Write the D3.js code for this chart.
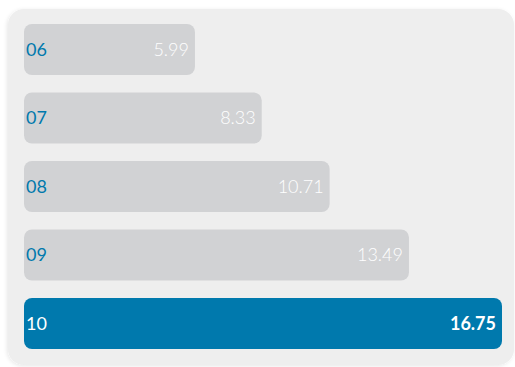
<!DOCTYPE html>
<html>
<head>
<meta charset="utf-8">
<script src="https://cdn.jsdelivr.net/npm/d3@7"></script>
<style>
body { margin: 0; background: #fff; }
svg { display: block; }
</style>
</head>
<body>
<svg id="chart" width="515" height="367"></svg>
<script>
var years = ['06', '07', '08', '09', '10'];
var values = [5.99, 8.33, 10.71, 13.49, 16.75];
var highlight = '10';

var width = 515, height = 367;
var svg = d3.select('#chart');

var defs = svg.append('defs');
var f = defs.append('filter').attr('id', 'sh').attr('x', -0.05).attr('y', -0.05).attr('width', 1.1).attr('height', 1.1);
f.append('feGaussianBlur').attr('in', 'SourceAlpha').attr('stdDeviation', 2);
f.append('feOffset').attr('dx', -1).attr('dy', 1).attr('result', 'b');
f.append('feComponentTransfer').append('feFuncA').attr('type', 'linear').attr('slope', 0.1);
var m = f.append('feMerge');
m.append('feMergeNode');
m.append('feMergeNode').attr('in', 'SourceGraphic');

// panel
svg.append('rect')
    .attr('x', 8).attr('y', 9)
    .attr('width', 506).attr('height', 356)
    .attr('rx', 16)
    .attr('fill', '#eeeeee')
    .attr('filter', 'url(#sh)');

var margin = {left: 24, top: 24};

var x = d3.scaleLinear()
    .domain([0, 16.75])
    .range([0, 478]);

var y = d3.scaleBand()
    .domain(years)
    .range([0, 325])
    .paddingInner(0.255)
    .paddingOuter(0);

var g = svg.append('g').attr('transform', 'translate(' + margin.left + ',' + margin.top + ')');

var rows = g.selectAll('.row')
    .data(years.map(function(d, i) { return {year: d, val: values[i]}; }))
    .enter().append('g')
    .attr('class', 'row')
    .attr('transform', function(d) { return 'translate(0,' + y(d.year) + ')'; });

rows.append('rect')
    .attr('width', function(d) { return x(d.val); })
    .attr('height', y.bandwidth())
    .attr('rx', 8)
    .attr('fill', function(d) { return d.year == highlight ? '#0079ad' : '#d1d2d4'; });

rows.append('text')
    .attr('x', 2)
    .attr('y', y.bandwidth() / 2)
    .attr('dy', '0.36em')
    .attr('font-family', 'Lato, sans-serif')
    .attr('font-size', 18)
    .attr('font-weight', 400)
    .attr('fill', function(d) { return d.year == highlight ? '#ffffff' : '#0079ad'; })
    .text(function(d) { return d.year; });

rows.append('text')
    .attr('x', function(d) { return x(d.val) - 6; })
    .attr('y', y.bandwidth() / 2)
    .attr('dy', '0.36em')
    .attr('text-anchor', 'end')
    .attr('font-family', 'Lato, sans-serif')
    .attr('font-size', 18)
    .attr('font-weight', function(d) { return d.year == highlight ? 700 : 300; })
    .attr('fill', '#ffffff')
    .text(function(d) { return d.val.toFixed(2); });
</script>
</body>
</html>
